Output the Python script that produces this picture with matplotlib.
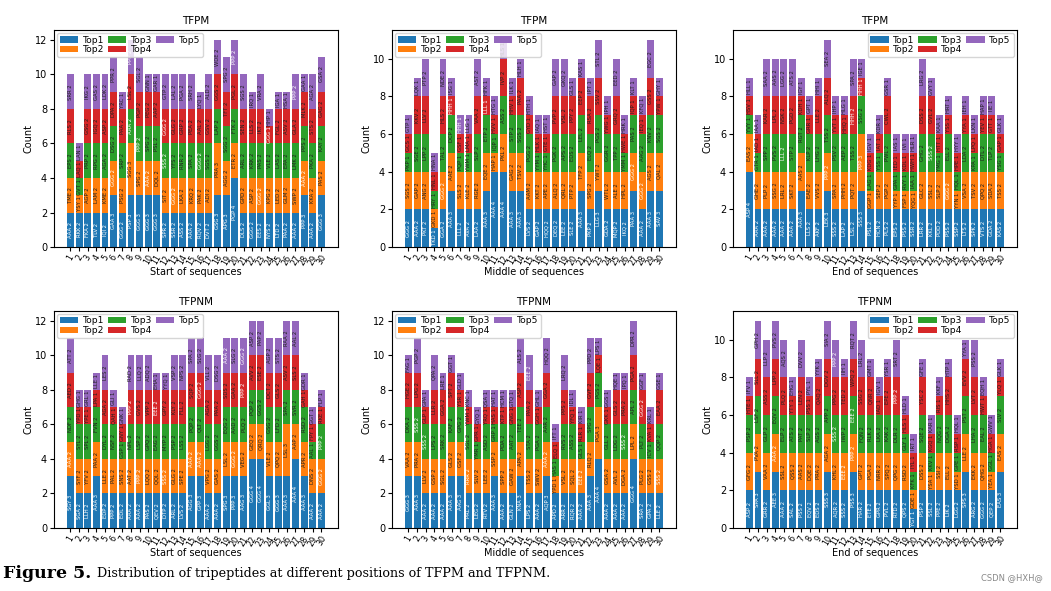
import matplotlib
matplotlib.use('Agg')
import matplotlib.pyplot as plt
import numpy as np

positions = list(range(1, 31))
series = ['Top1', 'Top2', 'Top3', 'Top4', 'Top5']
colors = ['#1f77b4', '#ff7f0e', '#2ca02c', '#d62728', '#9467bd']

# ---------- TFPM, start of sequences ----------
tfpm_start_counts = [
    [2,2,2,2,2],[2,1,1,1,1],[2,2,2,2,2],[2,2,2,2,2],[2,2,2,2,2],
    [3,2,2,2,2],[2,2,2,2,1],[3,3,2,2,2],[3,2,2,2,2],[3,2,2,2,1],
    [3,2,2,2,1],[2,2,2,2,2],[2,2,2,2,2],[2,2,2,2,2],[2,2,2,2,2],
    [2,2,2,2,1],[2,2,2,2,2],[3,3,2,2,2],[3,2,2,2,2],[4,2,2,2,2],
    [2,2,2,2,2],[2,2,2,2,1],[2,2,2,2,2],[2,2,2,1,1],[2,2,2,2,1],
    [2,2,2,2,1],[2,2,2,2,2],[3,2,2,2,1],[2,2,2,2,2],[3,2,2,2,2]]
tfpm_start_names = [
    'AAA TME EPS RLS SRR','RKK YSY GVT LAQ LAN','FKA AGP PRP GSG IKG','TLV LAM RPG IGQ GAS',
    'IQI KME AGA ASP LDK','GAA GGG DSG DPA PPR','GGG PSG SRP PAA YRC','PSP SGG AAA LSL PPP',
    'GGG SPG PPP PGP SGL','GGG AAA SPG PEG GNN','GGG DQL PSL AAP GAR','SPR SIT SSS GGG GTP',
    'SSR GGG YFS GLG LAL','ASS LKA RNR GRP PGA','AAA KRQ SPA PEA SRH','RQV PAK GGG AAL LYQ',
    'DVT ADI SGS GSV ALD','GSG PRA LAP GGS WDE','APG AGG SGG TFT SPG','PGP ETR FTK PGL PPP',
    'DLS GPD ARL SEN SGS','GGG ASP KRK LLS IRQ','EES GGG PAS IKT VRA','NYS KPG VLE GGG HHP',
    'LTD LED LAS FGL IGA','PAA GLM EPA ASV HSA','AAA SWP LMK GLA PPP','PPP AAA PPS MLK GAA',
    'AAA KKA PKA STS AGA','GGG PAS KAY GAG GSA']

# ---------- TFPM, middle of sequences ----------
tfpm_middle_counts = [
    [2,2,1,1,1],[2,2,2,2,1],[2,2,2,2,2],[1,1,1,1,1],[2,2,2,2,2],
    [3,2,2,1,1],[2,2,1,1,1],[2,2,1,1,1],[2,2,2,2,2],[3,2,2,1,1],
    [4,1,1,1,1],[4,2,2,2,1],[3,2,2,1,1],[3,2,2,2,1],[2,2,2,1,1],
    [2,2,1,1,1],[2,2,1,1,1],[2,2,2,2,2],[2,2,2,2,2],[2,2,2,2,1],
    [3,2,2,2,1],[2,2,2,2,1],[3,2,2,2,2],[2,2,2,1,1],[2,2,2,2,2],
    [2,2,1,1,1],[3,2,2,1,1],[2,2,2,1,1],[3,2,2,2,2],[3,2,2,1,1]]
tfpm_middle_names = [
    'GGG SGS PKP GCS GTP','AAA GAP SGE KKV LQK','PKT ANG LPP LLV PTP','TKD GKD HRY HNL HNA',
    'GGA GGG TAL HLS NDE','AAA AAE DCP HHH ISG','LLL SLS PQP GSF HHH','AVA KLE YWM LMA LLG',
    'LAA RGE SLP VAA AST','AAA EQE ETP LLL HFK','AAA HAP IQP HVV HTG','AAA PKL ASS IVP HLS',
    'AAA GAG STP HHV ILK','AAA TSV SGS PAA HLH','LVS AAM PGG GYD HTH','GAP KKT YYM HLK IAQ',
    'HQQ APE YHC GTE HST','DEQ ALQ PGK PVP GAP','LEE QRL APS VSL GKQ','SLE PTP EDS PPY GLS',
    'AAA TFP LEL EEP KAS','PKP SPG ELQ RSA IPT','LLG YWT PGS SSV STL','GDA WTL GGR YWG IPH',
    'MQP ALE TPP GRQ EED','IKQ HPL YMM HWE HRK','PAA GGG PAS IQP KLT','AAA GGG AAG IEQ KFQ',
    'AAA AGS KNV GSS EGC','SAV QAL SGS YPW GHY']

# ---------- TFPM, end of sequences ----------
tfpm_end_counts = [
    [4,2,1,1,1],[2,2,1,1,1],[2,2,2,2,2],[2,2,2,2,2],[2,2,2,2,2],
    [2,2,2,2,2],[3,2,2,1,1],[2,2,2,1,1],[2,2,2,2,1],[3,2,2,2,2],
    [2,2,2,1,1],[2,2,2,1,1],[2,2,2,2,2],[3,3,2,1,1],[2,1,1,1,1],
    [2,2,1,1,1],[2,2,2,2,1],[2,1,1,1,1],[2,1,1,1,1],[2,1,1,1,1],
    [2,2,2,2,2],[2,2,2,2,1],[2,2,1,1,1],[2,2,2,1,1],[2,1,1,1,1],
    [2,2,2,1,1],[2,2,1,1,1],[2,2,2,1,1],[2,2,2,1,1],[2,2,1,1,1]]
tfpm_end_names = [
    'ASP EAS YVY HSV HLL','AAA GHE GTR IAD IAA','AAA PLP SPP KAR SAA','AAA SSG PVS LPL AAS',
    'AAA LRL LLL NSK LGG','AAA SKT STP PGD ATS','AAA AAS RGT KDH IGY','LLS EAE KLP GRR GPT',
    'AKF VVS LHG LLE HHI','LEK PPP TSS ALQ SEA','SSS SPA PSV YVT IHP','LAP PHH AEP HHQ HLG',
    'LSL PQT TSS HHH SPA','SSS PPP SSG HHH IGE','PSL GGP LAG KDG IGV','HCN SEP YSS IAT KDR',
    'PLS PGP PWL CWL GSR','EPS YYP GPA IED IAS','PSS FSP RVY KDL IVI','SSR YQG IAA HWH HLR',
    'LRR GLC GHG DSS LRG','KKL SSL SSS GVL GVY','PDD SLP YMG HTT KAA','PSS GGG ELL YSS HRT',
    'SSP YYN HQL HPE HYY','LTS VSA LDA YYA IEH','SPK TSV KPA LPQ LKN','VTS QPQ DTL YEV HAP',
    'GDA SDA TLP GTT IIE','KAS TSS YSG GAP GLK']

# ---------- TFPNM, start of sequences ----------
tfpnm_start_counts = [
    [3,2,2,2,2],[2,2,2,1,1],[2,2,2,1,1],[3,2,2,1,1],[2,2,2,2,2],
    [2,2,2,1,1],[2,2,1,1,1],[2,2,2,2,2],[2,2,2,2,2],[2,2,2,2,2],
    [2,2,2,2,1],[2,2,2,2,1],[2,2,2,2,2],[2,2,2,2,2],[3,2,2,2,2],
    [3,2,2,2,2],[2,2,2,2,2],[2,2,2,2,2],[3,2,2,2,2],[3,2,2,2,2],
    [3,2,2,2,2],[4,2,2,2,2],[4,2,2,2,2],[3,2,2,2,2],[3,2,2,2,2],
    [3,3,2,2,2],[4,2,2,2,2],[3,2,2,1,1],[2,2,1,1,1],[2,2,2,1,1]]
tfpnm_start_names = [
    'SGY AAA NDF AED ATT','SGA SYF SYL YPD GHG','LLH YFV SPL YPE GRL','AAA PAA FVN LPA LLE',
    'EDP LLE DYL AGA LES','PPP PAL NSF QAH GLI','EDL SNS GSP GNY GNK','AAA AAT NPL PPP RAD',
    'AAA PPP LSP GVS LLQ','PAS LQQ GPQ VPP ADQ','QEV QQL EAG EEE EHA','DTP SSS MYP GPY YYQ',
    'ARL GLG PSP KLY VSP','LVS SPE LSS FLL NPS','AGG AAA PQP SQP SPA','GPP AAA QLT GGG SLG',
    'AAA VPG LGG AGA VLL','AAA GAS GGS PAA DSG','SPG LSL EQG SDS AAA','PPP GGG AAD GAA SLG',
    'AAG VEG PLQ PPP GGG','GGG GEQ PQP AVV ASP','GGG QRQ GGS ESE PAP','GGL VLE GSG DCT AGP',
    'GGG QPQ LFD GLS STS','AAA LSL SPA ASV RAA','AAA AAP SVR SLS AAL','AAA APR RSD GAH GDR',
    'AAA DNS AAL FPY GGT','AAA GGG PPP RKE FLP']

# ---------- TFPNM, middle of sequences ----------
tfpnm_middle_counts = [
    [3,2,2,2,1],[3,2,2,2,2],[2,2,2,1,1],[2,2,2,2,2],[2,2,2,2,1],
    [3,2,2,2,1],[3,2,2,1,1],[2,2,2,1,1],[2,2,1,1,1],[2,2,2,1,1],
    [3,2,1,1,1],[2,2,2,1,1],[2,2,2,1,1],[3,2,2,2,2],[2,2,2,2,2],
    [2,2,2,1,1],[3,2,2,2,2],[2,1,1,1,1],[2,2,2,2,2],[2,2,2,1,1],
    [2,2,1,1,1],[3,2,2,2,2],[4,3,2,1,1],[2,2,2,1,1],[2,2,2,2,1],
    [2,2,2,2,1],[4,2,2,2,2],[2,2,2,2,1],[2,2,1,1,1],[2,2,2,2,1]]
tfpnm_middle_names = [
    'GGG VAA DKA HGE FAG','AAA PRA SSS LPG PGP','AAA LLV SSS GLP GPA','AAA GSP LPS LLR QPA',
    'AAA SGL SRK GGA LRE','AAA GLS KAF SPT GGT','AAG GSF GPG YSR GLD','PRL RRR SGL YWM KNC',
    'LEG SLV YMR GPR GYQ','RTV LEE ASD YRQ QSA','AAA SSP GRP HAS HAT','AAA SPP PDA KTP HCM',
    'GLN GAW AAT GNG GTQ','KNA APA TEE ASP ALS','LPS TSS STA PAA EEE','AAA SWV PGA GGH GHL',
    'AQP AAA AAR GGA HQQ','APD YPD HAS ELQ IFT','ARR VSL RVS PPS LRQ','RQR SQL ASS YFQ IDL',
    'AAA EEE GLS RLR KIR','AAA RLQ SPG GVF PPD','AAA PGA PGS LQE LPS','AAA GSA GLL GKK GGS',
    'AAA AVL LDG GLS HQE','AAA DGA SSS PRA IPQ','GGG LPL APL PGA DPR','SRA PLG PLT GGG GGF',
    'GPA GSS ICV KVA KRL','LLE SSS QQP EAA GSE']

# ---------- TFPNM, end of sequences ----------
tfpnm_end_counts = [
    [2,2,2,1,1],[3,2,2,2,2],[2,2,2,2,2],[3,2,2,2,2],[2,2,2,2,2],
    [2,2,2,1,1],[2,2,2,2,2],[2,2,2,1,1],[2,2,2,2,1],[3,2,2,2,2],
    [2,2,2,2,2],[2,2,2,2,1],[3,2,2,2,2],[2,2,2,2,2],[2,2,2,2,1],
    [2,2,2,1,1],[2,2,2,2,1],[2,2,2,2,2],[2,2,1,1,1],[1,1,1,1,1],
    [2,2,2,2,1],[2,1,1,1,1],[2,2,2,1,1],[2,2,2,2,1],[2,1,1,1,1],
    [3,2,2,2,1],[2,2,2,2,2],[2,2,2,1,1],[2,1,1,1,1],[3,2,2,1,1]]
tfpnm_end_names = [
    'ASP GFG PSP HTE IFV','SPA PVA LSF SLL GPH','GRR VAA GLP ASS LLP','AEE AAA EQV LPP PVS',
    'AAA SSL ELP PLQ AQS','SAL QSS ATS YTY EHG','PSS AAS PAT LEN DVV','EQV DQE SLP PSS PYL',
    'EDS PRA AGS QAQ YYK','SSS AGA APP DGV SIA','AQR KHL SSS PPG PPP','SSS EEE IWP TED IIH',
    'PSS PPP EEE WPQ RQT','HAR GPT FQN SSG LRL','ETE PGA RLK QNR GMT','GPR NRR LKA IAD IGV',
    'PVL SPQ KAK EPE YSR','RTD QPG DLR PPP SRT','QPS RSD GLY HLS HLD','YGT GDE KFK IYL IRT',
    'PSP DSS SQE YSC GFE','SSL YSA KKV KGQ KAR','PPE SSI NQG RIS KKF','LIK ELL DGA HHS HTP',
    'LGG YSD GPE RSP HQL','SPS LLE PST EVV YYA','ARG EKK LHA LVT PSS','GGG QHG EAL HWT EQH',
    'QEP YEA GGL HGA GWV','EAS EAS SLV YLQ GLK']

panels = [
    ('TFPM', 'Start of sequences', tfpm_start_counts, tfpm_start_names, 'upper left'),
    ('TFPM', 'Middle of sequences', tfpm_middle_counts, tfpm_middle_names, 'upper left'),
    ('TFPM', 'End of sequences', tfpm_end_counts, tfpm_end_names, 'upper right'),
    ('TFPNM', 'Start of sequences', tfpnm_start_counts, tfpnm_start_names, 'upper left'),
    ('TFPNM', 'Middle of sequences', tfpnm_middle_counts, tfpnm_middle_names, 'upper left'),
    ('TFPNM', 'End of sequences', tfpnm_end_counts, tfpnm_end_names, 'upper right'),
]

fig = plt.figure(figsize=(10.51, 5.91), dpi=100)
axpos = [(0.0514, 0.582), (0.373, 0.582), (0.6974, 0.582),
         (0.0514, 0.1066), (0.373, 0.1066), (0.6974, 0.1066)]

for (title, xlabel, counts, names, legloc), (x0, y0) in zip(panels, axpos):
    ax = fig.add_axes([x0, y0, 0.270, 0.368])
    counts = np.array(counts)
    bottoms = np.zeros(len(positions))
    for k in range(5):
        ax.bar(positions, counts[:, k], bottom=bottoms, color=colors[k],
               label=series[k], width=0.8)
        for i, p in enumerate(positions):
            nm = names[i].split()[k]
            c = counts[i, k]
            if k == 0 or len(set(nm)) == 1:
                tc = 'white'
            else:
                tc = '#202020'
            ax.text(p, bottoms[i] + c / 2, f'{nm} {c}', rotation=90,
                    ha='center', va='center', fontsize=3.8, color=tc)
        bottoms = bottoms + counts[:, k]
    ax.set_title(title, fontsize=7.5, pad=4)
    ax.set_xlabel(xlabel, fontsize=7, labelpad=0)
    ax.set_ylabel('Count', fontsize=7, labelpad=1)
    ax.set_xticks(positions)
    ax.set_xticklabels([str(p) for p in positions], rotation=60, fontsize=5.8)
    ax.tick_params(axis='y', labelsize=7, length=3, pad=2)
    ax.tick_params(axis='x', length=3, pad=1.5)
    leg = ax.legend(ncol=3, loc=legloc, fontsize=6.6, handlelength=2.0,
                    borderpad=0.3, labelspacing=0.05, columnspacing=0.4,
                    handletextpad=0.5, borderaxespad=0.35)
    leg.set_zorder(10)

fig.canvas.draw()
t1 = fig.text(0.003, 0.030, 'Figure 5.', fontsize=12.5, weight='bold',
              family='DejaVu Serif', va='center', ha='left')
fig.canvas.draw()
bb = t1.get_window_extent()
fig.text(bb.x1 / fig.bbox.width + 0.005, 0.030,
         'Distribution of tripeptides at different positions of TFPM and TFPNM.',
         fontsize=9.2, family='DejaVu Serif', va='center', ha='left')
fig.text(0.992, 0.022, 'CSDN @HXH@', fontsize=6, color='#888888',
         ha='right', va='center')

fig.savefig('out.png', dpi=100)
